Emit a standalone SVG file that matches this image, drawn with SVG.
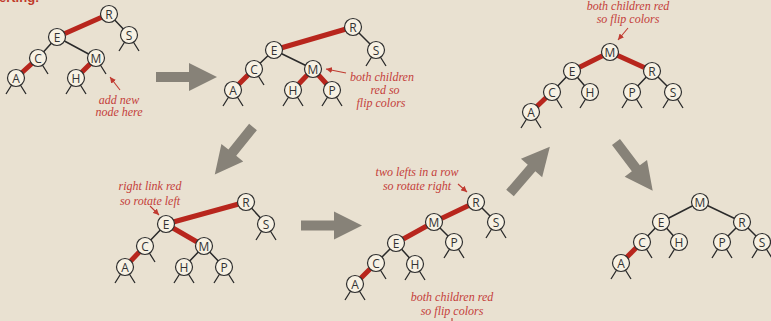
<svg xmlns="http://www.w3.org/2000/svg" width="771" height="321" viewBox="0 0 771 321">
<style>
.bg{fill:#e9e1d1}
.n circle{fill:#f7f1e3;stroke:#2f2f2f;stroke-width:1.2}
.n text{font-family:"Open Sans","DejaVu Sans",sans-serif;font-size:12px;fill:#333;text-anchor:middle;dominant-baseline:central}
.blk{stroke:#2a2a2a;stroke-width:1.5;fill:none}
.red{stroke:#b8261d;stroke-width:5;fill:none}
.null{stroke:#2a2a2a;stroke-width:1.3;fill:none}
.ptr{stroke:#c03a30;stroke-width:1.1;fill:none;marker-end:url(#ah)}
.lbl{font-family:"Liberation Serif",serif;font-style:italic;font-size:12px;fill:#c4403a;text-anchor:middle}
.garr{fill:#878278}
.title{font-family:"Liberation Sans",sans-serif;font-weight:bold;font-size:13px;fill:#c0392b}
</style>
<defs>
<marker id="ah" viewBox="0 0 6 6" refX="6" refY="3" markerWidth="6" markerHeight="6" markerUnits="userSpaceOnUse" orient="auto"><path d="M0,0 L6,3 L0,6 z" fill="#c03a30"/></marker>
<path id="garrow" d="M0,-5 H33 V-14 L61,0 L33,14 V5 H0 Z"/>
</defs>
<rect class="bg" width="771" height="321"/>
<text class="title" x="-1" y="2">erting:</text>

<g id="big-arrows" class="garr">
<use href="#garrow" transform="translate(156,77)"/>
<use href="#garrow" transform="translate(253,127) rotate(128.8)"/>
<use href="#garrow" transform="translate(301,225.5)"/>
<use href="#garrow" transform="translate(510,193) rotate(-49.2)"/>
<use href="#garrow" transform="translate(616,142) rotate(53)"/>
</g>

<g id="connectors">
<!-- tree 1 -->
<path class="red" d="M109,14 L57,37 M38,58 L16,78 M96,58 L76,78"/>
<path class="blk" d="M109,14 L129,35 M57,37 L38,58 M57,37 L96,58"/>
<path class="null" d="M129,35 l-10,16 M129,35 l10,16 M38,58 l10,16 M96,58 l10,16 M16,78 l-10,16 M16,78 l10,16 M76,78 l-10,16 M76,78 l10,16"/>
<!-- tree 2 -->
<path class="red" d="M353,27 L274,50 M254,69 L233,90 M313,69 L293,90 M313,69 L332,90"/>
<path class="blk" d="M353,27 L376,50 M274,50 L254,69 M274,50 L313,69"/>
<path class="null" d="M376,50 l-10,16 M376,50 l10,16 M254,69 l10,16 M233,90 l-10,16 M233,90 l10,16 M293,90 l-10,16 M293,90 l10,16 M332,90 l-10,16 M332,90 l10,16"/>
<!-- tree 3 -->
<path class="red" d="M246,202 L166,224 M166,224 L204,246 M145,246 L125,267"/>
<path class="blk" d="M246,202 L266,224 M166,224 L145,246 M204,246 L184,267 M204,246 L224,267"/>
<path class="null" d="M266,224 l-10,16 M266,224 l10,16 M145,246 l10,16 M125,267 l-10,16 M125,267 l10,16 M184,267 l-10,16 M184,267 l10,16 M224,267 l-10,16 M224,267 l10,16"/>
<!-- tree 4 -->
<path class="red" d="M476,202 L434,222 M434,222 L396,243 M376,263 L355,284"/>
<path class="blk" d="M476,202 L496,222 M434,222 L454,242 M396,243 L376,263 M396,243 L415,264"/>
<path class="null" d="M496,222 l-10,16 M496,222 l10,16 M454,242 l-10,16 M454,242 l10,16 M376,263 l10,16 M415,264 l-10,16 M415,264 l10,16 M355,284 l-10,16 M355,284 l10,16"/>
<!-- tree 5 -->
<path class="red" d="M610,52 L572,71 M610,52 L652,71 M552,92 L531,112"/>
<path class="blk" d="M572,71 L552,92 M572,71 L590,92 M652,71 L632,92 M652,71 L673,92"/>
<path class="null" d="M552,92 l10,16 M590,92 l-10,16 M632,92 l-10,16 M632,92 l10,16 M673,92 l-10,16 M673,92 l10,16 M531,112 l-10,16 M531,112 l10,16"/>
<!-- tree 6 -->
<path class="red" d="M642,242 L621,263"/>
<path class="blk" d="M700,202 L661,222 M700,202 L742,222 M661,222 L642,242 M661,222 L679,242 M742,222 L722,242 M742,222 L762,242"/>
<path class="null" d="M642,242 l10,16 M679,242 l-10,16 M722,242 l-10,16 M722,242 l10,16 M762,242 l-10,16 M762,242 l10,16 M621,263 l-10,16 M621,263 l10,16"/>
<!-- pointers -->
<path class="ptr" d="M120,90 L110,77"/>
<path class="ptr" d="M346,73 L326,69"/>
<path class="ptr" d="M150,206 L159,215"/>
<path class="ptr" d="M458,184 L467,192"/>
<path class="ptr" d="M628,28 L618,40"/>
<path class="null" style="stroke:#c03a30;stroke-width:1.1" d="M452,318 L452,321"/>
</g>

<g id="labels">
<text class="lbl" x="119" y="104">add new</text>
<text class="lbl" x="119" y="116">node here</text>
<text class="lbl" x="382" y="81">both children</text>
<text class="lbl" x="385" y="94">red so</text>
<text class="lbl" x="381" y="107">flip colors</text>
<text class="lbl" x="150" y="190">right link red</text>
<text class="lbl" x="150" y="205">so rotate left</text>
<text class="lbl" x="417" y="176">two lefts in a row</text>
<text class="lbl" x="417" y="190">so rotate right</text>
<text class="lbl" x="452" y="301">both children red</text>
<text class="lbl" x="452" y="315">so flip colors</text>
<text class="lbl" x="628" y="10">both children red</text>
<text class="lbl" x="628" y="23">so flip colors</text>
</g>

<!-- tree 1 nodes -->
<g id="t1-R" class="n"><circle cx="109" cy="14" r="8.5"/><text x="109" y="14">R</text></g>
<g id="t1-S" class="n"><circle cx="129" cy="35" r="8.5"/><text x="129" y="35">S</text></g>
<g id="t1-E" class="n"><circle cx="57" cy="37" r="8.5"/><text x="57" y="37">E</text></g>
<g id="t1-C" class="n"><circle cx="38" cy="58" r="8.5"/><text x="38" y="58">C</text></g>
<g id="t1-M" class="n"><circle cx="96" cy="58" r="8.5"/><text x="96" y="58">M</text></g>
<g id="t1-A" class="n"><circle cx="16" cy="78" r="8.5"/><text x="16" y="78">A</text></g>
<g id="t1-H" class="n"><circle cx="76" cy="78" r="8.5"/><text x="76" y="78">H</text></g>
<!-- tree 2 nodes -->
<g id="t2-R" class="n"><circle cx="353" cy="27" r="8.5"/><text x="353" y="27">R</text></g>
<g id="t2-S" class="n"><circle cx="376" cy="50" r="8.5"/><text x="376" y="50">S</text></g>
<g id="t2-E" class="n"><circle cx="274" cy="50" r="8.5"/><text x="274" y="50">E</text></g>
<g id="t2-C" class="n"><circle cx="254" cy="69" r="8.5"/><text x="254" y="69">C</text></g>
<g id="t2-M" class="n"><circle cx="313" cy="69" r="8.5"/><text x="313" y="69">M</text></g>
<g id="t2-A" class="n"><circle cx="233" cy="90" r="8.5"/><text x="233" y="90">A</text></g>
<g id="t2-H" class="n"><circle cx="293" cy="90" r="8.5"/><text x="293" y="90">H</text></g>
<g id="t2-P" class="n"><circle cx="332" cy="90" r="8.5"/><text x="332" y="90">P</text></g>
<!-- tree 3 nodes -->
<g id="t3-R" class="n"><circle cx="246" cy="202" r="8.5"/><text x="246" y="202">R</text></g>
<g id="t3-S" class="n"><circle cx="266" cy="224" r="8.5"/><text x="266" y="224">S</text></g>
<g id="t3-E" class="n"><circle cx="166" cy="224" r="8.5"/><text x="166" y="224">E</text></g>
<g id="t3-C" class="n"><circle cx="145" cy="246" r="8.5"/><text x="145" y="246">C</text></g>
<g id="t3-M" class="n"><circle cx="204" cy="246" r="8.5"/><text x="204" y="246">M</text></g>
<g id="t3-A" class="n"><circle cx="125" cy="267" r="8.5"/><text x="125" y="267">A</text></g>
<g id="t3-H" class="n"><circle cx="184" cy="267" r="8.5"/><text x="184" y="267">H</text></g>
<g id="t3-P" class="n"><circle cx="224" cy="267" r="8.5"/><text x="224" y="267">P</text></g>
<!-- tree 4 nodes -->
<g id="t4-R" class="n"><circle cx="476" cy="202" r="8.5"/><text x="476" y="202">R</text></g>
<g id="t4-S" class="n"><circle cx="496" cy="222" r="8.5"/><text x="496" y="222">S</text></g>
<g id="t4-M" class="n"><circle cx="434" cy="222" r="8.5"/><text x="434" y="222">M</text></g>
<g id="t4-P" class="n"><circle cx="454" cy="242" r="8.5"/><text x="454" y="242">P</text></g>
<g id="t4-E" class="n"><circle cx="396" cy="243" r="8.5"/><text x="396" y="243">E</text></g>
<g id="t4-C" class="n"><circle cx="376" cy="263" r="8.5"/><text x="376" y="263">C</text></g>
<g id="t4-H" class="n"><circle cx="415" cy="264" r="8.5"/><text x="415" y="264">H</text></g>
<g id="t4-A" class="n"><circle cx="355" cy="284" r="8.5"/><text x="355" y="284">A</text></g>
<!-- tree 5 nodes -->
<g id="t5-M" class="n"><circle cx="610" cy="52" r="8.5"/><text x="610" y="52">M</text></g>
<g id="t5-E" class="n"><circle cx="572" cy="71" r="8.5"/><text x="572" y="71">E</text></g>
<g id="t5-R" class="n"><circle cx="652" cy="71" r="8.5"/><text x="652" y="71">R</text></g>
<g id="t5-C" class="n"><circle cx="552" cy="92" r="8.5"/><text x="552" y="92">C</text></g>
<g id="t5-H" class="n"><circle cx="590" cy="92" r="8.5"/><text x="590" y="92">H</text></g>
<g id="t5-P" class="n"><circle cx="632" cy="92" r="8.5"/><text x="632" y="92">P</text></g>
<g id="t5-S" class="n"><circle cx="673" cy="92" r="8.5"/><text x="673" y="92">S</text></g>
<g id="t5-A" class="n"><circle cx="531" cy="112" r="8.5"/><text x="531" y="112">A</text></g>
<!-- tree 6 nodes -->
<g id="t6-M" class="n"><circle cx="700" cy="202" r="8.5"/><text x="700" y="202">M</text></g>
<g id="t6-E" class="n"><circle cx="661" cy="222" r="8.5"/><text x="661" y="222">E</text></g>
<g id="t6-R" class="n"><circle cx="742" cy="222" r="8.5"/><text x="742" y="222">R</text></g>
<g id="t6-C" class="n"><circle cx="642" cy="242" r="8.5"/><text x="642" y="242">C</text></g>
<g id="t6-H" class="n"><circle cx="679" cy="242" r="8.5"/><text x="679" y="242">H</text></g>
<g id="t6-P" class="n"><circle cx="722" cy="242" r="8.5"/><text x="722" y="242">P</text></g>
<g id="t6-S" class="n"><circle cx="762" cy="242" r="8.5"/><text x="762" y="242">S</text></g>
<g id="t6-A" class="n"><circle cx="621" cy="263" r="8.5"/><text x="621" y="263">A</text></g>
</svg>
